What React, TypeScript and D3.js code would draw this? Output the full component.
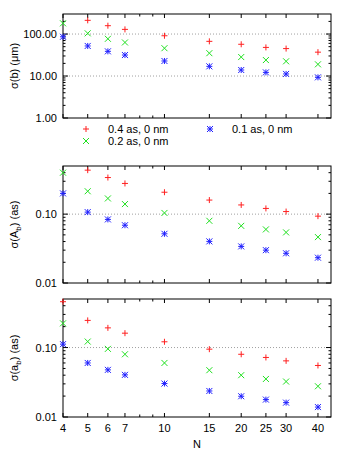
import React from "react";
import * as d3 from "d3";

const N = [4, 5, 6, 7, 10, 15, 20, 25, 30, 40];
const xTickLabels = ["4", "5", "6", "7", "10", "15", "20", "25", "30", "40"];
const xMinorTicks = [8, 9];

// Panel 1: sigma(b) (um)
const b04 = [350, 212, 158, 129, 91, 67, 57, 48, 45, 37];
const b02 = [180, 104, 77, 63, 46, 35, 28.3, 24, 22.4, 19];
const b01 = [86, 52, 38.7, 31.6, 22.8, 17, 13.9, 12.2, 11.2, 9.3];

// Panel 2: sigma(A_b) (as)
const A04 = [0.6, 0.435, 0.34, 0.279, 0.208, 0.16, 0.136, 0.121, 0.109, 0.0935];
const A02 = [0.4, 0.215, 0.169, 0.14, 0.104, 0.08, 0.0676, 0.06, 0.0543, 0.0464];
const A01 = [0.2, 0.107, 0.0838, 0.069, 0.0518, 0.0402, 0.034, 0.03, 0.027, 0.0233];

// Panel 3: sigma(a_b) (as)
const a04 = [0.457, 0.246, 0.192, 0.161, 0.121, 0.0948, 0.08, 0.072, 0.0643, 0.0552];
const a02 = [0.223, 0.122, 0.0957, 0.08, 0.06, 0.0472, 0.04, 0.0353, 0.0324, 0.0277];
const a01 = [0.112, 0.06, 0.0477, 0.0404, 0.0303, 0.0237, 0.0199, 0.0178, 0.0161, 0.0139];

const legendLabels = ["0.4 as, 0 nm", "0.2 as, 0 nm", "0.1 as, 0 nm"];
const colors = ["#ff2020", "#20e020", "#2020ff"];

const FONT = "Liberation Sans, Arial, sans-serif";
const L = 63, R = 331;

const x = d3.scaleLog().domain([4, 45]).range([L, R]);

function Marker({ kind, cx, cy, color }: { kind: number; cx: number; cy: number; color: string }) {
  const s = 3;
  const plus = `M${cx - s},${cy}H${cx + s}M${cx},${cy - s}V${cy + s}`;
  const cross = `M${cx - s},${cy - s}L${cx + s},${cy + s}M${cx - s},${cy + s}L${cx + s},${cy - s}`;
  const d = kind === 0 ? plus : kind === 1 ? cross : plus + cross;
  return <path d={d} stroke={color} strokeWidth={1} fill="none" />;
}

type PanelProps = {
  top: number;
  bottom: number;
  domain: [number, number];
  majors: number[];
  majorLabels: string[];
  grid: number[];
  series: number[][];
  ylabel: React.ReactNode;
  showX: boolean;
};

function Panel({ top, bottom, domain, majors, majorLabels, grid, series, ylabel, showX }: PanelProps) {
  const y = d3.scaleLog().domain(domain).range([bottom, top]);
  const minors: number[] = [];
  const lo = Math.floor(Math.log10(domain[0]));
  const hi = Math.ceil(Math.log10(domain[1]));
  for (let e = lo; e <= hi; e++) {
    for (let m = 2; m <= 9; m++) {
      const v = m * Math.pow(10, e);
      if (v > domain[0] && v < domain[1]) minors.push(v);
    }
  }
  const cy = (top + bottom) / 2;
  return (
    <g>
      {grid.map((g, i) => (
        <line key={"g" + i} x1={L} x2={R} y1={y(g)} y2={y(g)} stroke="#a0a0a0" strokeWidth={1} strokeDasharray="1,2" />
      ))}
      {majors.map((v, i) => (
        <g key={"ym" + i}>
          <line x1={L} x2={L + 5} y1={y(v)} y2={y(v)} stroke="#000" />
          <line x1={R} x2={R - 5} y1={y(v)} y2={y(v)} stroke="#000" />
          <text x={L - 6} y={y(v) + 4} fontSize={11} fontFamily={FONT} textAnchor="end">{majorLabels[i]}</text>
        </g>
      ))}
      {minors.map((v, i) => (
        <g key={"yn" + i}>
          <line x1={L} x2={L + 2.5} y1={y(v)} y2={y(v)} stroke="#000" />
          <line x1={R} x2={R - 2.5} y1={y(v)} y2={y(v)} stroke="#000" />
        </g>
      ))}
      {N.map((v, i) => (
        <g key={"xm" + i}>
          <line x1={x(v)} x2={x(v)} y1={top} y2={top + 4} stroke="#000" />
          <line x1={x(v)} x2={x(v)} y1={bottom} y2={bottom - 4} stroke="#000" />
          {showX && (
            <text x={x(v)} y={bottom + 15} fontSize={11} fontFamily={FONT} textAnchor="middle">{xTickLabels[i]}</text>
          )}
        </g>
      ))}
      {xMinorTicks.map((v, i) => (
        <g key={"xn" + i}>
          <line x1={x(v)} x2={x(v)} y1={top} y2={top + 2.5} stroke="#000" />
          <line x1={x(v)} x2={x(v)} y1={bottom} y2={bottom - 2.5} stroke="#000" />
        </g>
      ))}
      <rect x={L} y={top} width={R - L} height={bottom - top} fill="none" stroke="#000" strokeWidth={1} />
      {series.map((s, k) =>
        s.map((v, i) =>
          v >= domain[0] && v <= domain[1] ? (
            <Marker key={k + "-" + i} kind={k} cx={x(N[i])} cy={y(v)} color={colors[k]} />
          ) : null
        )
      )}
      <text transform={`translate(18,${cy}) rotate(-90)`} fontSize={11} fontFamily={FONT} textAnchor="middle">{ylabel}</text>
    </g>
  );
}

export default function App() {
  return (
    <svg width={350} height={450} style={{ position: "absolute", left: 0, top: 0, background: "#fff" }}>
      <rect width={350} height={450} fill="#fff" />
      <Panel
        top={14}
        bottom={118}
        domain={[1, 300]}
        majors={[1, 10, 100]}
        majorLabels={["1.00", "10.00", "100.00"]}
        grid={[10, 100]}
        series={[b04, b02, b01]}
        ylabel={<>σ(b) (μm)</>}
        showX={false}
      />
      <Panel
        top={166}
        bottom={283}
        domain={[0.01, 0.5]}
        majors={[0.01, 0.1]}
        majorLabels={["0.01", "0.10"]}
        grid={[0.1]}
        series={[A04, A02, A01]}
        ylabel={<>σ(A<tspan fontSize={8} dy={3}>b</tspan><tspan dy={-3}>) (as)</tspan></>}
        showX={false}
      />
      <Panel
        top={299}
        bottom={417}
        domain={[0.01, 0.5]}
        majors={[0.01, 0.1]}
        majorLabels={["0.01", "0.10"]}
        grid={[0.1]}
        series={[a04, a02, a01]}
        ylabel={<>σ(a<tspan fontSize={8} dy={3}>b</tspan><tspan dy={-3}>) (as)</tspan></>}
        showX={true}
      />
      {[
        { k: 0, mx: 86, ty: 129 },
        { k: 1, mx: 86, ty: 141 },
        { k: 2, mx: 210, ty: 129 },
      ].map(({ k, mx, ty }) => (
        <g key={"lg" + k}>
          <Marker kind={k} cx={mx} cy={ty} color={colors[k]} />
          <text x={mx + 22} y={ty + 4} fontSize={11} fontFamily={FONT}>{legendLabels[k]}</text>
        </g>
      ))}
      <text x={197} y={448} fontSize={11} fontFamily={FONT} textAnchor="middle">N</text>
    </svg>
  );
}
